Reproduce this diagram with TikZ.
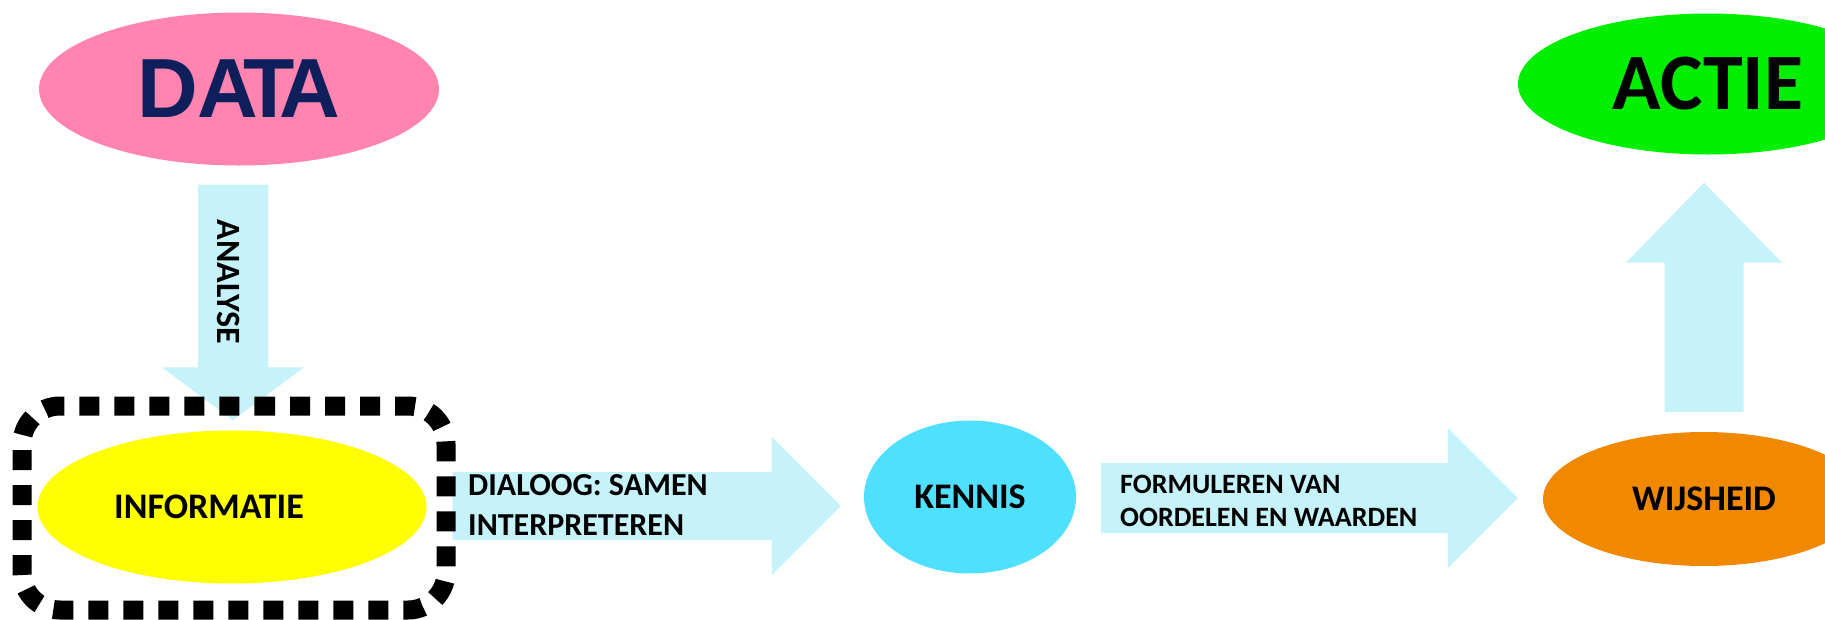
\documentclass[tikz,border=0pt]{standalone}
\usepackage{fontspec}
\setmainfont{Carlito}
\newfontfamily\arialfont{Liberation Sans}
\usetikzlibrary{shapes.geometric,calc}
\definecolor{pinkc}{HTML}{FF84AF}
\definecolor{yellowc}{HTML}{FFFF00}
\definecolor{kennc}{HTML}{50E0FF}
\definecolor{orangec}{HTML}{F08800}
\definecolor{greenc}{HTML}{00EE00}
\definecolor{arrowc}{HTML}{C6F2FA}
\definecolor{navyc}{HTML}{0E1F5B}
\newcommand{\myfs}[2]{\fontsize{#1}{#2}\selectfont}
% horizontal block arrow: start, end, shaft half width, head half width, head length
\newcommand{\hblockarrow}[5]{%
  \fill[blockarrow] ($(#1)+(0,-#3)$) -- ($(#2)+(-#5,-#3)$) -- ($(#2)+(-#5,-#4)$) -- (#2)
    -- ($(#2)+(-#5,#4)$) -- ($(#2)+(-#5,#3)$) -- ($(#1)+(0,#3)$) -- cycle;}
% vertical block arrow (sign +1 for downwards, -1 for upwards)
\newcommand{\vblockarrow}[6]{%
  \fill[blockarrow] ($(#1)+(-#3,0)$) -- ($(#2)+(-#3,-#6*#5)$) -- ($(#2)+(-#4,-#6*#5)$) -- (#2)
    -- ($(#2)+(#4,-#6*#5)$) -- ($(#2)+(#3,-#6*#5)$) -- ($(#1)+(#3,0)$) -- cycle;}
\begin{document}
\begin{tikzpicture}[x=1pt,y=-1pt,
  ell/.style={ellipse, draw=none, inner sep=0pt},
  lbl/.style={font=\bfseries\myfs{36}{40}, inner sep=0pt, text=black},
  arrowtxt/.style={font=\bfseries\myfs{#1}{#1}, inner sep=0pt, align=left, anchor=north west},
  blockarrow/.style={fill=arrowc, draw=none},
  dashbox/.style={draw=black, line width=19pt, dash pattern=on 20pt off 15pt,
     dash phase=17pt, rounded corners=38pt}]
\useasboundingbox (0,0) rectangle (1825,619);
\fill[white] (0,0) rectangle (1825,619);

% ellipses
\node[ell, fill=pinkc, minimum width=400pt, minimum height=153pt,
      font=\arialfont\bfseries\myfs{84}{90}, text=navyc] (data) at (239,89) {D\kern-1pt A\kern-15pt T\kern-15pt A};
\node[ell, fill=yellowc, minimum width=389pt, minimum height=153pt,
      label={[lbl, xshift=-23pt]center:INFORMATIE}] (info) at (232,507) {};
\node[ell, fill=kennc, minimum width=212pt, minimum height=153pt, lbl] (kennis) at (970,497) {KENNIS};
\node[ell, fill=orangec, minimum width=322pt, minimum height=134pt, lbl] (wijs) at (1704,499) {WIJSHEID};
\node[ell, fill=greenc, minimum width=380pt, minimum height=141pt,
      font=\bfseries\myfs{80}{90}, text=black] (actie) at (1708,84) {ACTIE};

% arrow end points, relative to the nodes they join
\coordinate (a1s) at ([shift={(-6,19)}]data.south);
\coordinate (a1e) at ([shift={(1,-10)}]info.north);
\coordinate (a2s) at ([shift={(26,-1)}]info.east);
\coordinate (a2e) at ([shift={(-23,9)}]kennis.west);
\coordinate (a3s) at ([shift={(25,1)}]kennis.east);
\coordinate (a3e) at ([shift={(-25,-1)}]wijs.west);
\coordinate (a4s) at ([yshift=20pt]wijs.north);
\coordinate (a4e) at ([shift={(-4,28)}]actie.south);

% block arrows
\vblockarrow{a1s}{a1e}{35}{71}{53}{1}
\hblockarrow{a2s}{a2e}{34}{69}{69}
\hblockarrow{a3s}{a3e}{35}{70}{70}
\vblockarrow{a4s}{a4e}{39.5}{78}{80}{-1}

% arrow labels
\node[font=\bfseries\myfs{34}{34}, inner sep=0pt, rotate=-90] (analyse) at (229,282) {ANALYSE};
\node[arrowtxt=32] (dialoog) at (468,474) {DIALOOG: SAMEN\\[8pt]INTERPRETEREN};
\node[arrowtxt=28] (formul) at (1120,475) {FORMULEREN VAN\\[5pt]OORDELEN EN WAARDEN};

% dashed frame
\draw[dashbox] (234,406) -- (446,406) -- (446,610) -- (22,610) -- (22,406) -- cycle;
\end{tikzpicture}
\end{document}
